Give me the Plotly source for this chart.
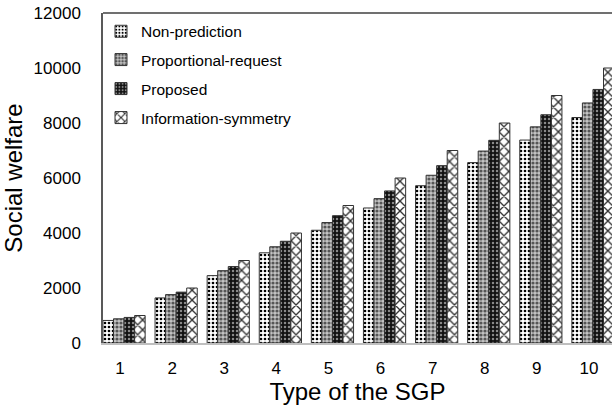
import plotly.graph_objects as go

categories = ["1", "2", "3", "4", "5", "6", "7", "8", "9", "10"]
non_prediction = [820, 1640, 2450, 3280, 4100, 4910, 5720, 6560, 7380, 8200]
proportional_request = [880, 1760, 2630, 3500, 4380, 5250, 6100, 6980, 7860, 8730]
proposed = [930, 1850, 2780, 3700, 4630, 5530, 6450, 7370, 8300, 9220]
information_symmetry = [1000, 2000, 3000, 4000, 5000, 6000, 7000, 8000, 9000, 10000]

series_names = ["Non-prediction", "Proportional-request", "Proposed", "Information-symmetry"]
series_values = [non_prediction, proportional_request, proposed, information_symmetry]

patterns = [
    dict(shape=".", bgcolor="#ffffff", fgcolor="#000000", size=4, solidity=0.35, fillmode="replace"),
    dict(shape=".", bgcolor="#c4c4c4", fgcolor="#555555", size=4, solidity=0.5, fillmode="replace"),
    dict(shape=".", bgcolor="#111111", fgcolor="#8a8a8a", size=4, solidity=0.3, fillmode="replace"),
    dict(shape="x", bgcolor="#ffffff", fgcolor="#333333", size=7, solidity=0.35, fillmode="replace"),
]
legend_ids = ["legend", "legend2", "legend3", "legend4"]

W, H = 612, 413
ml, mr, mt, mb = 103, 0, 13, 70
pw, ph = W - ml - mr, H - mt - mb
px_per_cat = 52.1
x_left = -0.404
x_right = x_left + pw / px_per_cat

legend_y_px = [31.7, 60, 89, 118]
legend_x_px = 101

fig = go.Figure()
for name, vals, pat, lid in zip(series_names, series_values, patterns, legend_ids):
    fig.add_trace(go.Bar(
        x=categories, y=vals, name=name, legend=lid,
        marker=dict(color=pat["bgcolor"], pattern=pat, line=dict(color="#333333", width=1)),
    ))

layout_legends = {}
for lid, ypx in zip(legend_ids, legend_y_px):
    layout_legends[lid] = dict(
        x=(legend_x_px - ml) / pw, xanchor="left",
        y=(mt + ph - ypx) / ph, yanchor="middle",
        bgcolor="rgba(0,0,0,0)", borderwidth=0,
        font=dict(family="Liberation Sans, Arial, sans-serif", size=15.5, color="#000000"),
        itemclick=False,
    )

fig.update_layout(
    width=W, height=H,
    margin=dict(l=ml, r=mr, t=mt, b=mb, pad=0, autoexpand=False),
    paper_bgcolor="#ffffff", plot_bgcolor="#ffffff",
    barmode="group", bargap=0.19, bargroupgap=0,
    font=dict(family="Liberation Sans, Arial, sans-serif", color="#000000"),
    showlegend=True,
    **layout_legends,
)

fig.update_xaxes(
    type="category", range=[x_left, x_right],
    showgrid=False, zeroline=False,
    showline=True, linecolor="#bfbfbf", linewidth=1.5,
    ticks="", tickfont=dict(size=17, color="#000000"),
    ticklabelstandoff=9, ticklabelshift=-4,
    title=dict(text="Type of the SGP", font=dict(size=24, color="#000000"), standoff=0),
)
fig.update_yaxes(
    range=[0, 12000], dtick=2000, tickformat="d",
    showgrid=False, zeroline=False,
    showline=True, linecolor="#595959", linewidth=1.5,
    ticks="", tickfont=dict(size=17, color="#000000"),
    ticklabelstandoff=17,
    title=dict(text="Social welfare", font=dict(size=24, color="#000000"), standoff=7),
)

fig.add_shape(type="line", xref="paper", yref="paper", x0=0, x1=1, y0=1, y1=1,
              line=dict(color="#404040", width=1.5), layer="above")

fig.write_html(
    "out.html",
    config={"displayModeBar": False},
    post_script="document.body.style.margin='0';document.body.style.overflow='hidden';",
)
